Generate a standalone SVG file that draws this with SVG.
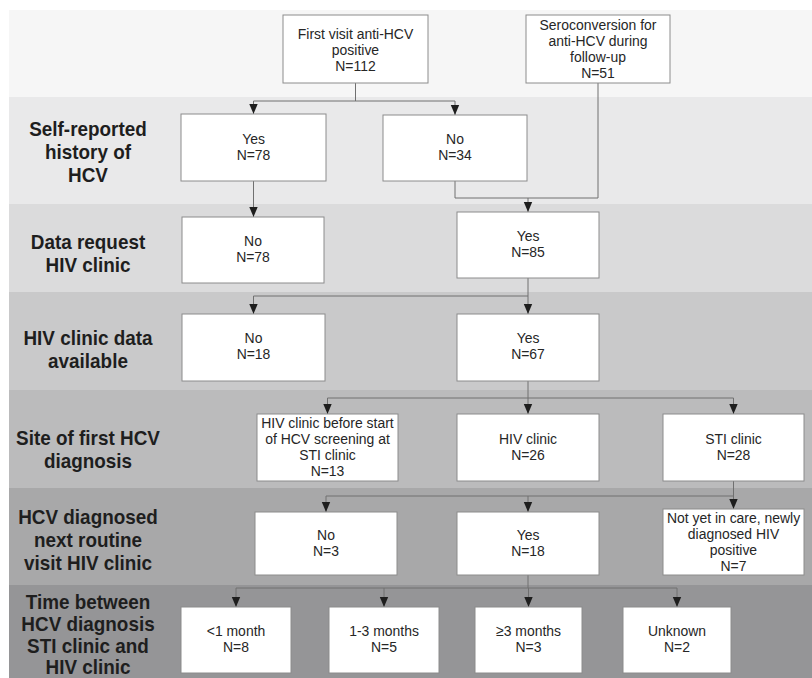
<svg xmlns="http://www.w3.org/2000/svg" width="812" height="678" viewBox="0 0 812 678">
<defs>
<marker id="ah" markerUnits="userSpaceOnUse" markerWidth="10" markerHeight="10" viewBox="0 0 10 10" refX="10" refY="5" orient="auto">
<path d="M0,0.8 L10,5 L0,9.2 z" fill="#1e1e1e"/>
</marker>
<style>
.box{fill:#ffffff;stroke:#8c8c8c;stroke-width:1}
.t{font-family:"Liberation Sans",Arial,sans-serif;font-size:15.5px;fill:#262626;text-anchor:middle}
.lab{font-family:"Liberation Sans",Arial,sans-serif;font-size:21px;font-weight:bold;fill:#1e1e1e;text-anchor:middle}
.c{fill:none;stroke:#707070;stroke-width:1}
.a{fill:none;stroke:#707070;stroke-width:1;marker-end:url(#ah)}
</style>
</defs>
<rect x="0" y="0" width="812" height="678" fill="#ffffff"/>
<g id="bands">
<rect x="9" y="10" width="803" height="87" fill="#f6f6f6"/>
<rect x="9" y="97" width="803" height="107" fill="#e9e9ea"/>
<rect x="9" y="204" width="803" height="88" fill="#dbdbdc"/>
<rect x="9" y="292" width="803" height="98" fill="#c9c9ca"/>
<rect x="9" y="390" width="803" height="98" fill="#bbbbbc"/>
<rect x="9" y="488" width="803" height="97" fill="#a8a8a9"/>
<rect x="9" y="585" width="803" height="93" fill="#959597"/>
</g>
<g id="labels" transform="translate(88 0) scale(0.9 1)">
<text class="lab" x="0" y="136">Self-reported</text>
<text class="lab" x="0" y="159">history of</text>
<text class="lab" x="0" y="182">HCV</text>
<text class="lab" x="0" y="249">Data request</text>
<text class="lab" x="0" y="272">HIV clinic</text>
<text class="lab" x="0" y="345">HIV clinic data</text>
<text class="lab" x="0" y="368">available</text>
<text class="lab" x="0" y="445">Site of first HCV</text>
<text class="lab" x="0" y="468">diagnosis</text>
<text class="lab" x="0" y="524">HCV diagnosed</text>
<text class="lab" x="0" y="547">next routine</text>
<text class="lab" x="0" y="570">visit HIV clinic</text>
<text class="lab" x="0" y="609">Time between</text>
<text class="lab" x="0" y="631">HCV diagnosis</text>
<text class="lab" x="0" y="653">STI clinic and</text>
<text class="lab" x="0" y="674">HIV clinic</text>
</g>
<g id="connectors">
<path class="c" d="M355.5,83 V101 M253.5,101 H455"/>
<path class="a" d="M253.5,101 V114"/>
<path class="a" d="M455,101 V115"/>
<path class="c" d="M598,83 V198 H455 V181"/>
<path class="a" d="M528,198 V212"/>
<path class="a" d="M253.5,181 V217"/>
<path class="c" d="M528,278 V296 M253.5,296 H528"/>
<path class="a" d="M253.5,296 V314"/>
<path class="a" d="M528,296 V314"/>
<path class="c" d="M528,381 V398 M327.5,398 H733.5"/>
<path class="a" d="M327.5,398 V414"/>
<path class="a" d="M528,398 V414"/>
<path class="a" d="M733.5,398 V414"/>
<path class="c" d="M733.5,481 V496 M326,496 H733.5"/>
<path class="a" d="M326,496 V512"/>
<path class="a" d="M528,496 V512"/>
<path class="a" d="M733.5,496 V509"/>
<path class="c" d="M528,575 V588 M236,588 H677"/>
<path class="a" d="M236,588 V607"/>
<path class="a" d="M384,588 V607"/>
<path class="a" d="M528.5,588 V607"/>
<path class="a" d="M677,588 V607"/>
</g>
<g id="n1"><rect class="box" x="283" y="15" width="145" height="68"/>
<g transform="translate(355.5 0) scale(0.9 1)"><text class="t" x="0" y="39">First visit anti-HCV</text><text class="t" x="0" y="55">positive</text><text class="t" x="0" y="71">N=112</text></g></g>
<g id="n2"><rect class="box" x="526" y="15" width="144" height="68"/>
<g transform="translate(598 0) scale(0.9 1)"><text class="t" x="0" y="30">Seroconversion for</text><text class="t" x="0" y="46">anti-HCV during</text><text class="t" x="0" y="62">follow-up</text><text class="t" x="0" y="78">N=51</text></g></g>
<g id="n3"><rect class="box" x="181" y="114" width="145" height="67"/>
<g transform="translate(253.5 0) scale(0.9 1)"><text class="t" x="0" y="144">Yes</text><text class="t" x="0" y="160">N=78</text></g></g>
<g id="n4"><rect class="box" x="383" y="115" width="144" height="66"/>
<g transform="translate(455 0) scale(0.9 1)"><text class="t" x="0" y="144">No</text><text class="t" x="0" y="160">N=34</text></g></g>
<g id="n5"><rect class="box" x="182" y="217" width="142" height="66"/>
<g transform="translate(253 0) scale(0.9 1)"><text class="t" x="0" y="246">No</text><text class="t" x="0" y="262">N=78</text></g></g>
<g id="n6"><rect class="box" x="457" y="212" width="142" height="66"/>
<g transform="translate(528 0) scale(0.9 1)"><text class="t" x="0" y="241">Yes</text><text class="t" x="0" y="257">N=85</text></g></g>
<g id="n7"><rect class="box" x="182" y="314" width="143" height="67"/>
<g transform="translate(253.5 0) scale(0.9 1)"><text class="t" x="0" y="343">No</text><text class="t" x="0" y="359">N=18</text></g></g>
<g id="n8"><rect class="box" x="457" y="314" width="142" height="67"/>
<g transform="translate(528 0) scale(0.9 1)"><text class="t" x="0" y="343">Yes</text><text class="t" x="0" y="359">N=67</text></g></g>
<g id="n9"><rect class="box" x="257" y="414" width="141" height="67"/>
<g transform="translate(327.5 0) scale(0.9 1)"><text class="t" x="0" y="428">HIV clinic before start</text><text class="t" x="0" y="444">of HCV screening at</text><text class="t" x="0" y="460">STI clinic</text><text class="t" x="0" y="476">N=13</text></g></g>
<g id="n10"><rect class="box" x="457" y="414" width="142" height="67"/>
<g transform="translate(528 0) scale(0.9 1)"><text class="t" x="0" y="444">HIV clinic</text><text class="t" x="0" y="460">N=26</text></g></g>
<g id="n11"><rect class="box" x="663" y="414" width="141" height="67"/>
<g transform="translate(733.5 0) scale(0.9 1)"><text class="t" x="0" y="444">STI clinic</text><text class="t" x="0" y="460">N=28</text></g></g>
<g id="n12"><rect class="box" x="255" y="512" width="142" height="63"/>
<g transform="translate(326 0) scale(0.9 1)"><text class="t" x="0" y="540">No</text><text class="t" x="0" y="556">N=3</text></g></g>
<g id="n13"><rect class="box" x="457" y="512" width="142" height="63"/>
<g transform="translate(528 0) scale(0.9 1)"><text class="t" x="0" y="540">Yes</text><text class="t" x="0" y="556">N=18</text></g></g>
<g id="n14"><rect class="box" x="663" y="509" width="141" height="66"/>
<g transform="translate(733.5 0) scale(0.9 1)"><text class="t" x="0" y="523">Not yet in care, newly</text><text class="t" x="0" y="539">diagnosed HIV</text><text class="t" x="0" y="555">positive</text><text class="t" x="0" y="571">N=7</text></g></g>
<g id="n15"><rect class="box" x="181" y="607" width="110" height="66"/>
<g transform="translate(236 0) scale(0.9 1)"><text class="t" x="0" y="636">&lt;1 month</text><text class="t" x="0" y="652">N=8</text></g></g>
<g id="n16"><rect class="box" x="329" y="607" width="110" height="66"/>
<g transform="translate(384 0) scale(0.9 1)"><text class="t" x="0" y="636">1-3 months</text><text class="t" x="0" y="652">N=5</text></g></g>
<g id="n17"><rect class="box" x="475" y="607" width="107" height="66"/>
<g transform="translate(528.5 0) scale(0.9 1)"><text class="t" x="0" y="636">≥3 months</text><text class="t" x="0" y="652">N=3</text></g></g>
<g id="n18"><rect class="box" x="623" y="607" width="108" height="66"/>
<g transform="translate(677 0) scale(0.9 1)"><text class="t" x="0" y="636">Unknown</text><text class="t" x="0" y="652">N=2</text></g></g>
</svg>
